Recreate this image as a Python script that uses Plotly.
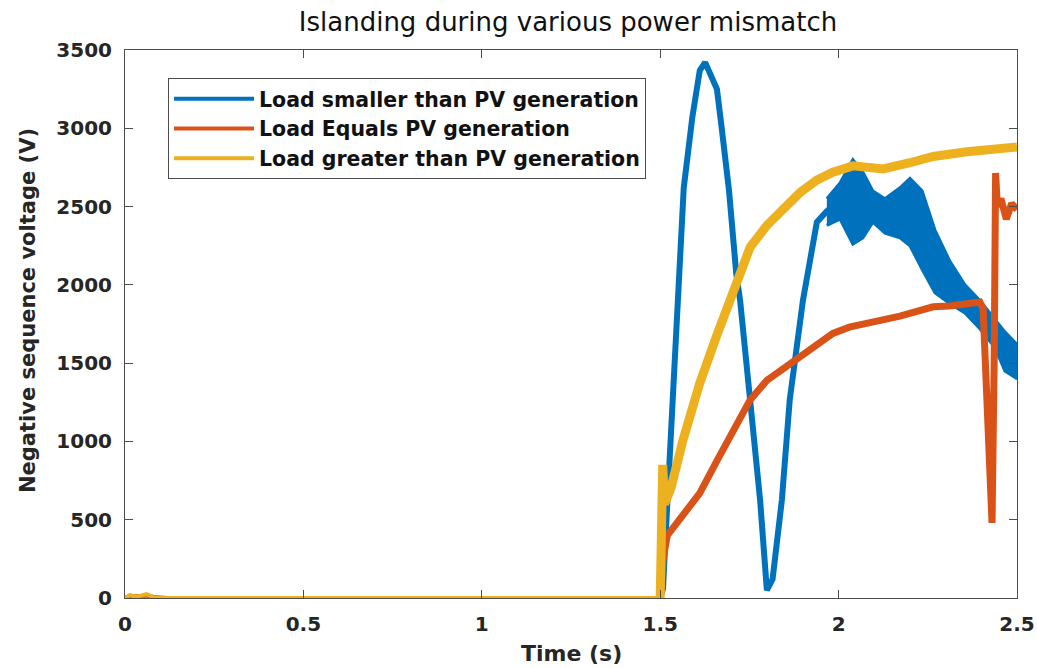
import plotly.graph_objects as go

# ---- data ----
t_blue = [0, 0.015, 0.03, 0.06, 0.08, 0.12, 0.5, 1.0, 1.5, 1.508, 1.513, 1.53, 1.55, 1.566,
          1.59, 1.611, 1.626, 1.645, 1.659, 1.673, 1.693, 1.713, 1.724, 1.752, 1.780, 1.799,
          1.815, 1.841, 1.863, 1.900, 1.939, 1.967, 2.004, 2.04, 2.068, 2.096, 2.13, 2.172,
          2.20, 2.234, 2.27, 2.312, 2.354, 2.396, 2.438, 2.466, 2.5]
v_blue = [0, 15, 5, 20, 5, 0, 0, 0, 0, 60, 300, 1100, 1900, 2620,
          3070, 3370, 3420, 3330, 3250, 2990, 2600, 2075, 1900, 1265, 626, 50,
          120, 626, 1265, 1900, 2400, 2470, 2540, 2570, 2510, 2500, 2440, 2460,
          2460, 2350, 2150, 2010, 1910, 1810, 1690, 1580, 1510]

# noisy envelope of the blue trace after 1.97 s
t_blue_band = [1.967, 2.004, 2.04, 2.068, 2.096, 2.13, 2.172, 2.20, 2.234, 2.27, 2.312,
               2.354, 2.396, 2.438, 2.466, 2.5]
up_blue_band = [2550, 2650, 2800, 2720, 2600, 2550, 2620, 2680, 2600, 2350, 2150,
                2000, 1900, 1780, 1700, 1620]
lo_blue_band = [2380, 2420, 2260, 2300, 2400, 2330, 2300, 2250, 2100, 1950, 1880,
                1820, 1720, 1600, 1450, 1400]

t_orange = [0, 0.02, 0.06, 0.1, 0.5, 1.0, 1.5, 1.508, 1.52, 1.56, 1.611, 1.66, 1.704,
            1.752, 1.799, 1.85, 1.892, 1.94, 1.984, 2.03, 2.08, 2.13, 2.172, 2.22, 2.265,
            2.31, 2.36, 2.396, 2.405, 2.418, 2.43, 2.436, 2.44, 2.445, 2.455, 2.47, 2.485, 2.5]
v_orange = [0, 10, 15, 0, 0, 0, 0, 250, 400, 520, 670, 880, 1073,
            1265, 1390, 1470, 1540, 1620, 1690, 1730, 1760, 1780, 1800, 1830, 1860,
            1865, 1880, 1890, 1850, 1200, 480, 1500, 2715, 2500, 2550, 2420, 2520, 2480]

t_yellow = [0, 0.014, 0.03, 0.06, 0.08, 0.12, 0.5, 1.0, 1.5, 1.502, 1.507, 1.512, 1.53,
            1.564, 1.611, 1.659, 1.704, 1.752, 1.799, 1.85, 1.892, 1.94, 1.984, 2.04, 2.08,
            2.125, 2.2, 2.265, 2.36, 2.45, 2.5]
v_yellow = [0, 20, 5, 25, 5, 0, 0, 0, 0, 500, 850, 600, 700,
            1010, 1373, 1680, 1950, 2240, 2380, 2500, 2590, 2670, 2720, 2760, 2750,
            2740, 2780, 2820, 2850, 2870, 2880]

names = ["Load smaller than PV generation", "Load Equals PV generation",
         "Load greater than PV generation"]
x_ticks = [0, 0.5, 1, 1.5, 2, 2.5]
x_tick_text = ["0", "0.5", "1", "1.5", "2", "2.5"]
y_ticks = [0, 500, 1000, 1500, 2000, 2500, 3000, 3500]

colors = ["#0072BD", "#D95319", "#EDB120"]
active_widths = [6, 7, 9]
FONT = "DejaVu Sans"
TXT = "#262626"

fig = go.Figure()


def split(ts, vs, t0=1.5):
    i = next(k for k, t in enumerate(ts) if t >= t0)
    return (ts[:i + 1], vs[:i + 1]), (ts[i:], vs[i:])


series = [(t_blue, v_blue), (t_orange, v_orange), (t_yellow, v_yellow)]
for k, (ts, vs) in enumerate(series):
    (tf, vf), (ta, va) = split(ts, vs)
    fig.add_trace(go.Scatter(x=tf, y=vf, mode="lines", name=names[k], legendgroup=str(k),
                             line=dict(color=colors[k], width=4), showlegend=True))
    fig.add_trace(go.Scatter(x=ta, y=va, mode="lines", legendgroup=str(k), showlegend=False,
                             line=dict(color=colors[k], width=active_widths[k])))
    if k == 0:
        fig.add_trace(go.Scatter(x=t_blue_band + t_blue_band[::-1],
                                 y=up_blue_band + lo_blue_band[::-1],
                                 mode="lines", fill="toself", fillcolor=colors[0],
                                 line=dict(color=colors[0], width=3),
                                 showlegend=False, legendgroup="0", hoverinfo="skip"))

axis_common = dict(showline=True, linecolor="#4d4d4d", linewidth=1, mirror="ticks",
                   ticks="inside", ticklen=8, tickcolor="#4d4d4d", showgrid=False,
                   zeroline=False, automargin=False,
                   tickfont=dict(family=FONT, size=20, color=TXT, weight="bold"))

fig.update_layout(
    width=1037, height=668,
    margin=dict(l=125, r=20, t=50, b=70, autoexpand=False),
    paper_bgcolor="white", plot_bgcolor="white",
    title=dict(text="Islanding during various power mismatch",
               xref="container", yref="container",
               x=568 / 1037, xanchor="center", y=1 - 22 / 668, yanchor="middle",
               font=dict(family=FONT, size=26, color="#111111")),
    xaxis=dict(range=[0, 2.5], tickvals=x_ticks, ticktext=x_tick_text,
               ticklabelstandoff=8, **axis_common),
    yaxis=dict(range=[0, 3500], tickvals=y_ticks, ticklabelstandoff=8, **axis_common),
    legend=dict(x=(168 - 125) / 892, y=(598 - 78) / 548, xanchor="left", yanchor="top",
                bgcolor="white", bordercolor="#4d4d4d", borderwidth=1,
                itemwidth=80, tracegroupgap=0,
                font=dict(family=FONT, size=20.5, color="#111111", weight="bold")),
    showlegend=True,
    annotations=[
        dict(text="Time (s)", xref="paper", yref="paper",
             x=(571 - 125) / 892, y=(598 - 653) / 548, xanchor="center", yanchor="middle",
             showarrow=False, font=dict(family=FONT, size=22, color=TXT, weight="bold")),
        dict(text="Negative sequence voltage (V)", xref="paper", yref="paper",
             x=(28 - 125) / 892, y=(598 - 311) / 548, xanchor="center", yanchor="middle",
             textangle=-90, showarrow=False,
             font=dict(family=FONT, size=21, color=TXT, weight="bold")),
    ],
)

fig.write_html("out.html")
